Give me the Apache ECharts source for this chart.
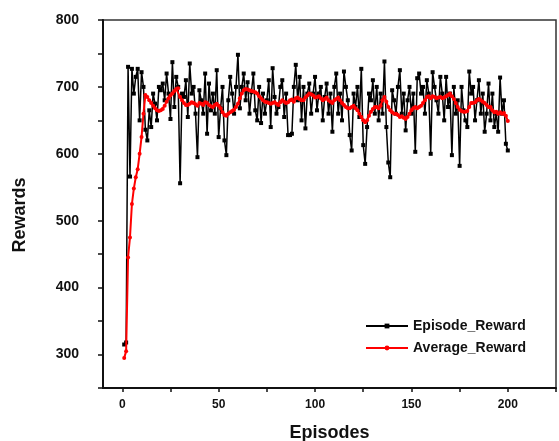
<!DOCTYPE html>
<html>
<head>
<meta charset="utf-8">
<script src="https://cdn.jsdelivr.net/npm/echarts@6/dist/echarts.min.js"></script>
<style>
  * { margin: 0; padding: 0; }
  body { background: #fff; }
</style>
</head>
<body>
<div id="main" style="width: 559px; height: 441px;"></div>
<script>
  // episode rewards (episodes 1..200)
  var episodeReward = [
    315, 318, 730, 566, 727, 690, 715, 727, 650, 722,
    700, 636, 620, 665, 640, 690, 675, 650, 700, 695,
    705, 680, 720, 690, 652, 737, 670, 715, 700, 556,
    690, 685, 710, 655, 735, 690, 700, 660, 595, 695,
    680, 660, 720, 630, 705, 665, 690, 660, 725, 625,
    668, 700, 620, 598, 680, 715, 690, 660, 700, 748,
    668, 700, 720, 680, 707, 660, 692, 720, 665, 650,
    700, 646, 690, 660, 680, 710, 640, 728, 685, 660,
    670, 700, 710, 655, 690, 628, 628, 630, 700, 733,
    680, 715, 650, 700, 638, 690, 705, 660, 690, 715,
    665, 690, 700, 650, 685, 705, 660, 690, 633, 700,
    720, 660, 690, 650, 723, 700, 680, 628, 605, 690,
    670, 700, 655, 727, 613, 585, 640, 690, 680, 710,
    660, 700, 650, 690, 660, 738, 640, 587, 565, 695,
    680, 660, 700, 725, 660, 690, 635, 680, 700, 660,
    690, 603, 713, 720, 690, 700, 660, 710, 690, 600,
    722, 700, 680, 660, 715, 690, 650, 715, 670, 690,
    598, 700, 660, 680, 582, 700, 665, 650, 640, 723,
    690, 700, 650, 680, 710, 660, 690, 633, 660, 705,
    650, 690, 640, 660, 633, 714, 660, 680, 615, 605
  ]
  // running average reward
  var averageReward = [
    295, 305, 445, 475, 525, 548, 565, 577, 600, 625,
    660, 688, 685, 680, 676, 672, 668, 665, 664, 665,
    667, 672, 678, 683, 687, 690, 694, 697, 698, 685,
    680, 676, 673, 673, 675, 677, 676, 674, 672, 676,
    675, 673, 677, 676, 673, 671, 670, 673, 675, 672,
    668, 662, 658, 657, 660, 662, 664, 666, 670, 675,
    683, 690, 695, 697, 696, 695, 694, 693, 692, 690,
    686, 683, 680, 678, 677, 676, 675, 676, 677, 675,
    673, 677, 680, 678, 676, 677, 680, 681, 678, 683,
    684, 682, 680, 680, 684, 687, 690, 689, 687, 684,
    685, 686, 683, 680, 682, 684, 680, 678, 676, 680,
    682, 684, 680, 676, 673, 670, 668, 668, 670, 672,
    668, 665, 660, 655, 650, 647, 650, 657, 663, 667,
    670, 670, 668, 672, 680, 685, 678, 670, 665, 662,
    660, 660, 658, 655, 656, 654, 652, 655, 660, 665,
    668, 670, 668, 670, 672, 676, 680, 685, 686, 683,
    686, 685, 683, 684, 685, 683, 684, 686, 688, 690,
    686, 682, 676, 670, 666, 664, 663, 663, 664, 670,
    676, 676, 677, 680, 682, 680, 678, 676, 673, 670,
    670, 665, 662, 663, 660, 662, 660, 661, 657, 649
  ]
  var xLabels = [0, 50, 100, 150, 200]
  var xTicks = [0, 25, 50, 75, 100, 125, 150, 175, 200, 225]

  var font = 'Liberation Sans, Arial, sans-serif'
  var episodeData = episodeReward.map(function (v, i) { return [i + 1, v] })
  var averageData = averageReward.map(function (v, i) { return [i + 1, v] })

  var myChart = echarts.init(document.getElementById('main'))
  myChart.setOption({
    backgroundColor: '#ffffff',
    animation: false,
    textStyle: { fontFamily: font },
    grid: {
      left: 103, right: 3, top: 20, bottom: 53,
      outerBoundsMode: 'none',
      show: true, borderColor: '#333', borderWidth: 1.5
    },
    legend: {
      orient: 'vertical',
      left: 360, top: 314,
      itemWidth: 42, itemHeight: 6, itemGap: 8,
      textStyle: { fontSize: 14, fontWeight: 'bold', color: '#111', fontFamily: font },
      data: ['Episode_Reward', 'Average_Reward']
    },
    xAxis: {
      type: 'value',
      min: -10, max: 225,
      name: 'Episodes',
      nameLocation: 'middle',
      nameGap: 36,
      nameTextStyle: { fontSize: 18, fontWeight: 'bold', color: '#111' },
      splitLine: { show: false },
      axisLine: { show: true, onZero: false, lineStyle: { color: '#111', width: 2 } },
      axisTick: { show: true, length: 4, customValues: xTicks, lineStyle: { color: '#111', width: 1.5 } },
      axisLabel: { customValues: xLabels, fontSize: 12, fontWeight: 'bold', color: '#111', margin: 11 }
    },
    yAxis: {
      type: 'value',
      min: 250, max: 800, interval: 50,
      name: 'Rewards',
      nameLocation: 'middle',
      nameGap: 74,
      nameTextStyle: { fontSize: 18, fontWeight: 'bold', color: '#111', padding: [0, 22, 0, 0] },
      splitLine: { show: false },
      axisLine: { show: true, onZero: false, lineStyle: { color: '#111', width: 2 } },
      axisTick: { show: true, length: 5, lineStyle: { color: '#111', width: 1.5 } },
      axisLabel: {
        fontSize: 14, fontWeight: 'bold', color: '#111', margin: 24,
        formatter: function (v) { return v % 100 === 0 && v > 250 ? String(v) : '' }
      }
    },
    series: [
      {
        name: 'Episode_Reward',
        type: 'line',
        data: episodeData,
        symbol: 'rect',
        symbolSize: 4,
        color: '#000',
        lineStyle: { color: '#000', width: 1.5 },
        itemStyle: { color: '#000' },
        z: 2
      },
      {
        name: 'Average_Reward',
        type: 'line',
        data: averageData,
        symbol: 'circle',
        symbolSize: 4,
        color: '#ff0000',
        lineStyle: { color: '#ff0000', width: 2 },
        itemStyle: { color: '#ff0000' },
        z: 3
      }
    ]
  })
</script>
</body>
</html>
